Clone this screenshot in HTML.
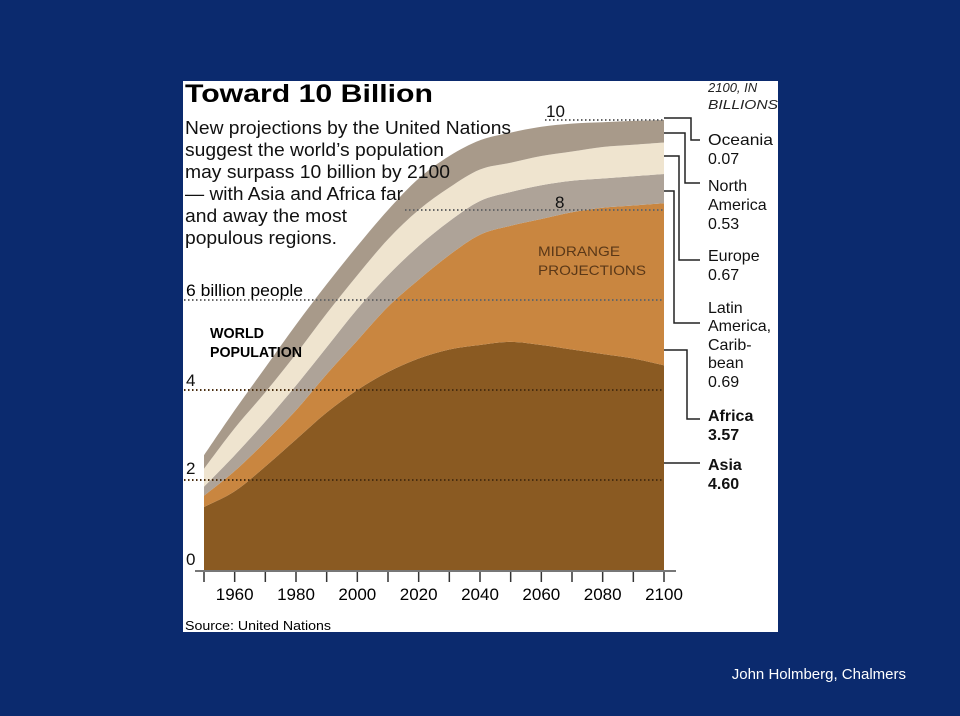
<!DOCTYPE html>
<html><head><meta charset="utf-8">
<style>
body{margin:0;width:960px;height:716px;background:#0b2a6e;overflow:hidden;font-family:"Liberation Sans",sans-serif;}
svg{position:absolute;left:0;top:0}
</style></head>
<body>
<svg width="960" height="716" id="chart">
<rect x="183" y="81" width="595" height="551" fill="#ffffff"/>
<g id="areas"></g>
<g id="grid"></g>
<g id="axis"></g>
<g id="leaders" stroke="#222" stroke-width="1.5" fill="none"></g>
<text x="185" y="102" font-size="25" font-weight="bold" textLength="248" lengthAdjust="spacingAndGlyphs">Toward 10 Billion</text>
<g font-size="18" fill="#111">
<text x="185" y="134" textLength="326" lengthAdjust="spacingAndGlyphs">New projections by the United Nations</text>
<text x="185" y="156" textLength="259" lengthAdjust="spacingAndGlyphs">suggest the world’s population</text>
<text x="185" y="178" textLength="265" lengthAdjust="spacingAndGlyphs">may surpass 10 billion by 2100</text>
<text x="185" y="200" textLength="218" lengthAdjust="spacingAndGlyphs">— with Asia and Africa far</text>
<text x="185" y="222" textLength="162" lengthAdjust="spacingAndGlyphs">and away the most</text>
<text x="185" y="244" textLength="152" lengthAdjust="spacingAndGlyphs">populous regions.</text>
</g>
<text x="186" y="296" font-size="17" textLength="117" lengthAdjust="spacingAndGlyphs">6 billion people</text>
<text x="210" y="338" font-size="15" font-weight="bold" textLength="54" lengthAdjust="spacingAndGlyphs">WORLD</text>
<text x="210" y="357" font-size="15" font-weight="bold" textLength="92" lengthAdjust="spacingAndGlyphs">POPULATION</text>
<text x="538" y="256" font-size="14" fill="#5a3818" textLength="82" lengthAdjust="spacingAndGlyphs">MIDRANGE</text>
<text x="538" y="275" font-size="14" fill="#5a3818" textLength="108" lengthAdjust="spacingAndGlyphs">PROJECTIONS</text>
<g font-size="17" fill="#111">
<text x="546" y="117">10</text><text x="555" y="208">8</text>
<text x="186" y="386">4</text><text x="186" y="474">2</text><text x="186" y="565">0</text>
</g>
<g font-size="13" font-style="italic" fill="#222">
<text x="708" y="92">2100, IN</text><text x="708" y="109" textLength="70" lengthAdjust="spacingAndGlyphs">BILLIONS</text></g>
<g font-size="16" fill="#111">
<text x="708" y="145" textLength="65" lengthAdjust="spacingAndGlyphs">Oceania</text><text x="708" y="164">0.07</text>
<text x="708" y="191">North</text><text x="708" y="210">America</text><text x="708" y="229">0.53</text>
<text x="708" y="261">Europe</text><text x="708" y="280">0.67</text>
<text x="708" y="313">Latin</text><text x="708" y="331">America,</text><text x="708" y="350">Carib-</text><text x="708" y="368">bean</text><text x="708" y="387">0.69</text>
<text x="708" y="421" font-weight="bold">Africa</text><text x="708" y="440" font-weight="bold">3.57</text>
<text x="708" y="470" font-weight="bold">Asia</text><text x="708" y="489" font-weight="bold">4.60</text>
</g>
<text x="185" y="630" font-size="13" textLength="146" lengthAdjust="spacingAndGlyphs">Source: United Nations</text>
<text x="906" y="679" font-size="15" fill="#fff" text-anchor="end">John Holmberg, Chalmers</text>
</svg>
<script>
const years=[1950,1960,1970,1980,1990,2000,2010,2020,2030,2040,2050,2060,2070,2080,2090,2100];
const asia=[1.4,1.75,2.3,2.9,3.5,4.0,4.4,4.7,4.9,5.0,5.07,5.0,4.9,4.8,4.7,4.55];
const africa=[0.25,0.45,0.55,0.65,0.85,1.1,1.45,1.75,2.1,2.45,2.58,2.8,3.05,3.25,3.4,3.6];
const latinAmerica=[0.2,0.35,0.45,0.55,0.6,0.7,0.7,0.75,0.75,0.75,0.75,0.75,0.7,0.65,0.65,0.65];
const europe=[0.4,0.6,0.65,0.7,0.75,0.75,0.8,0.8,0.75,0.7,0.65,0.65,0.65,0.7,0.7,0.7];
const northAmericaOceania=[0.3,0.4,0.55,0.65,0.65,0.65,0.65,0.7,0.7,0.65,0.67,0.65,0.62,0.55,0.53,0.5];
const yTicks=[2,4,6,8,10];
const xLabels=[1960,1980,2000,2020,2040,2060,2080,2100];
const X=y=>204+(y-1950)*(460/150);
const Y=v=>570-v*45;
const NS="http://www.w3.org/2000/svg";
function curve(pts){let d="";for(let i=0;i<pts.length-1;i++){const p0=pts[Math.max(i-1,0)],p1=pts[i],p2=pts[i+1],p3=pts[Math.min(i+2,pts.length-1)];
const c1=[p1[0]+(p2[0]-p0[0])/6,p1[1]+(p2[1]-p0[1])/6],c2=[p2[0]-(p3[0]-p1[0])/6,p2[1]-(p3[1]-p1[1])/6];
d+=` C${c1[0]},${c1[1]} ${c2[0]},${c2[1]} ${p2[0]},${p2[1]}`;}return d;}
const series=[[asia,"#8a5a22","area-asia"],[africa,"#c98640","area-africa"],[latinAmerica,"#aea398","area-latin-america"],[europe,"#efe4cf","area-europe"],[northAmericaOceania,"#a89a8a","area-north-america-oceania"]];
const areas=document.getElementById("areas");
let base=years.map(()=>0);
series.forEach(([vals,col,name])=>{
 const top=base.map((b,i)=>b+vals[i]);
 const tp=years.map((y,i)=>[X(y),Y(top[i])]);
 const bp=years.map((y,i)=>[X(y),Y(base[i])]).reverse();
 const d=`M${tp[0][0]},${tp[0][1]}`+curve(tp)+` L${bp[0][0]},${bp[0][1]}`+curve(bp)+"Z";
 const p=document.createElementNS(NS,"path");p.setAttribute("d",d);p.setAttribute("fill",col);
 
 
 areas.appendChild(p);base=top;});
const grid=document.getElementById("grid");
const starts={2:184,4:184,6:184,8:405,10:545};
yTicks.forEach(t=>{const l=document.createElementNS(NS,"line");
 l.setAttribute("x1",starts[t]);l.setAttribute("x2",664);l.setAttribute("y1",Y(t));l.setAttribute("y2",Y(t));
 l.setAttribute("stroke",t<=4?"#4a2e10":"#666");l.setAttribute("stroke-width","2");l.setAttribute("stroke-dasharray","1.5 2.5");
 
 
 grid.appendChild(l);});
const axis=document.getElementById("axis");
const al=document.createElementNS(NS,"line");al.setAttribute("x1",195);al.setAttribute("x2",676);al.setAttribute("y1",571);al.setAttribute("y2",571);al.setAttribute("stroke","#777");al.setAttribute("stroke-width","2");


axis.appendChild(al);
for(let y=1950;y<=2100;y+=10){const t=document.createElementNS(NS,"line");t.setAttribute("x1",X(y));t.setAttribute("x2",X(y));t.setAttribute("y1",572);t.setAttribute("y2",582);t.setAttribute("stroke","#333");t.setAttribute("stroke-width","1.5");
 
 
 axis.appendChild(t);}
xLabels.forEach(y=>{const t=document.createElementNS(NS,"text");t.setAttribute("x",X(y));t.setAttribute("y",600);t.setAttribute("font-size","17");t.setAttribute("text-anchor","middle");t.textContent=y;
 
 
 axis.appendChild(t);});
const leaders=document.getElementById("leaders");
[["M664,118 H691 V140 H700","leader-oceania"],["M664,133 H685 V183 H700","leader-north-america"],["M664,156 H679 V260 H700","leader-europe"],["M664,191 H674 V323 H700","leader-latin-america"],["M664,350 H687 V419 H700","leader-africa"],["M664,463 H700","leader-asia"]].forEach(([d,n])=>{
 const p=document.createElementNS(NS,"path");p.setAttribute("d",d);
 
 
 leaders.appendChild(p);});
</script>
</body></html>
